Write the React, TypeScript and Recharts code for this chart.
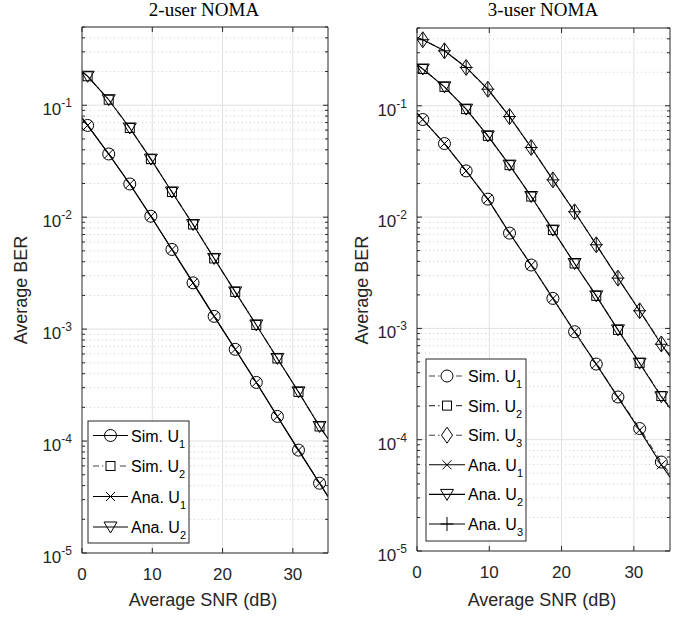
import React from 'react';
import { ComposedChart, Line, Scatter, XAxis, YAxis, ReferenceLine } from 'recharts';

// ---------- data ----------
const SNR_MARKS = [0.8, 3.8, 6.8, 9.8, 12.8, 15.8, 18.8, 21.8, 24.8, 27.8, 30.8, 33.8];
const SNR_RANGE = [0, 35];
const X_TICKS = [0, 10, 20, 30];
const Y_DECADES = [1e-5, 1e-4, 1e-3, 1e-2, 1e-1];
const Y_DECADE_EXP = ['-5', '-4', '-3', '-2', '-1'];
const Y_MINOR_MULT = [2, 3, 4, 5, 6, 7, 8, 9];
const Y_DOMAIN = [1e-5, 0.5];

// 2-user NOMA
const L_SIM_U1 = [0.066, 0.0367, 0.0198, 0.0102, 0.00515, 0.00259, 0.0013, 6.6e-4, 3.34e-4, 1.66e-4, 8.3e-5, 4.2e-5];
const L_SIM_U1_ENDS = [0.077, 3.2e-5];
const L_SIM_U2 = [0.1815, 0.112, 0.0626, 0.033, 0.0168, 0.0086, 0.00428, 0.00215, 0.00109, 5.47e-4, 2.75e-4, 1.35e-4];
const L_SIM_U2_ENDS = [0.2, 1.05e-4];
const L_ANA_U1 = [0.066, 0.0367, 0.0198, 0.0102, 0.00515, 0.00259, 0.0013, 6.6e-4, 3.34e-4, 1.66e-4, 8.3e-5, 4.2e-5];
const L_ANA_U1_ENDS = [0.077, 3.2e-5];
const L_ANA_U2 = [0.1815, 0.112, 0.0626, 0.033, 0.0168, 0.0086, 0.00428, 0.00215, 0.00109, 5.47e-4, 2.75e-4, 1.35e-4];
const L_ANA_U2_ENDS = [0.2, 1.05e-4];

// 3-user NOMA
const R_SIM_U1 = [0.0753, 0.0458, 0.026, 0.0145, 0.00718, 0.00371, 0.00186, 9.33e-4, 4.78e-4, 2.42e-4, 1.26e-4, 6.3e-5];
const R_SIM_U1_ENDS = [0.086, 4.9e-5];
const R_SIM_U2 = [0.214, 0.148, 0.0933, 0.0537, 0.0293, 0.0153, 0.00764, 0.00383, 0.00196, 9.7e-4, 4.9e-4, 2.47e-4];
const R_SIM_U2_ENDS = [0.235, 1.97e-4];
const R_SIM_U3 = [0.392, 0.312, 0.221, 0.141, 0.08, 0.0422, 0.0216, 0.01116, 0.00564, 0.00283, 0.00144, 7.25e-4];
const R_SIM_U3_ENDS = [0.41, 5.7e-4];
const R_ANA_U1 = [0.0753, 0.0458, 0.026, 0.0145, 0.00718, 0.00371, 0.00186, 9.33e-4, 4.78e-4, 2.4e-4, 1.22e-4, 5.95e-5];
const R_ANA_U1_ENDS = [0.086, 4.6e-5];
const R_ANA_U2 = [0.214, 0.148, 0.0933, 0.0537, 0.0293, 0.0153, 0.00764, 0.00383, 0.00196, 9.7e-4, 4.87e-4, 2.43e-4];
const R_ANA_U2_ENDS = [0.235, 1.92e-4];
const R_ANA_U3 = [0.392, 0.312, 0.221, 0.141, 0.08, 0.0422, 0.0216, 0.01116, 0.00564, 0.00283, 0.00144, 7.2e-4];
const R_ANA_U3_ENDS = [0.41, 5.6e-4];

const TITLES = ['2-user NOMA', '3-user NOMA'];
const X_LABEL = 'Average SNR (dB)';
const Y_LABEL = 'Average BER';

const LEFT_LEGEND = [
  { name: 'Sim. U', sub: '1', marker: 'circle', dash: false },
  { name: 'Sim. U', sub: '2', marker: 'square', dash: true },
  { name: 'Ana. U', sub: '1', marker: 'x', dash: false },
  { name: 'Ana. U', sub: '2', marker: 'tri', dash: false },
];
const RIGHT_LEGEND = [
  { name: 'Sim. U', sub: '1', marker: 'circle', dash: true },
  { name: 'Sim. U', sub: '2', marker: 'square', dash: true },
  { name: 'Sim. U', sub: '3', marker: 'diamond', dash: true },
  { name: 'Ana. U', sub: '1', marker: 'x', dash: false },
  { name: 'Ana. U', sub: '2', marker: 'tri', dash: false },
  { name: 'Ana. U', sub: '3', marker: 'plus', dash: false },
];

// ---------- styles ----------
const AX = '#262626';
const GRID_MAJOR = '#e0e0e0';
const GRID_MINOR = '#cfcfcf';
const SANS = '"Liberation Sans", Arial, Helvetica, sans-serif';
const SERIF = '"Liberation Serif", "Times New Roman", serif';
const DASHDOT = '6 3 1.5 3';
const SIM_DASH_COLOR = '#444444';

const Y_TICKS: number[] = [];
Y_DECADES.forEach((d) => {
  Y_TICKS.push(d);
  Y_MINOR_MULT.forEach((m) => {
    const v = d * m;
    if (v <= Y_DOMAIN[1] * 1.0000001) Y_TICKS.push(v);
  });
});
const Y_MINOR = Y_TICKS.filter((v) => !Y_DECADES.some((d) => Math.abs(d - v) / d < 1e-9));

const pts = (xs: number[], ys: number[]) => xs.map((x, i) => ({ x, y: ys[i] }));
const curve = (ys: number[], ends: number[]) => [
  { x: SNR_RANGE[0], y: ends[0] },
  ...pts(SNR_MARKS, ys),
  { x: SNR_RANGE[1], y: ends[1] },
];

function Marker({ kind, cx, cy }: { kind: string; cx: number; cy: number }) {
  const s = { fill: 'none', stroke: '#000', strokeWidth: 1 };
  if (cx == null || cy == null || isNaN(cx) || isNaN(cy)) return null;
  switch (kind) {
    case 'circle':
      return <circle cx={cx} cy={cy} r={6} {...s} />;
    case 'square':
      return <rect x={cx - 4.5} y={cy - 4.5} width={9} height={9} {...s} />;
    case 'diamond':
      return <polygon points={`${cx},${cy - 8} ${cx + 5.5},${cy} ${cx},${cy + 8} ${cx - 5.5},${cy}`} {...s} />;
    case 'tri':
      return <polygon points={`${cx - 6.5},${cy - 5} ${cx + 6.5},${cy - 5} ${cx},${cy + 6}`} {...s} />;
    case 'x':
      return (
        <g {...s}>
          <line x1={cx - 4.5} y1={cy - 4.5} x2={cx + 4.5} y2={cy + 4.5} />
          <line x1={cx - 4.5} y1={cy + 4.5} x2={cx + 4.5} y2={cy - 4.5} />
        </g>
      );
    case 'plus':
      return (
        <g {...s}>
          <line x1={cx - 6.5} y1={cy} x2={cx + 6.5} y2={cy} />
          <line x1={cx} y1={cy - 7} x2={cx} y2={cy + 7} />
        </g>
      );
    default:
      return null;
  }
}

function YTick(props: any) {
  const { x, y, payload, plotW } = props;
  const v = payload.value;
  const idx = Y_DECADES.findIndex((d) => Math.abs(d - v) / d < 1e-9);
  const len = idx >= 0 ? 5 : 3;
  return (
    <g>
      <line x1={x} x2={x + len} y1={y} y2={y} stroke={AX} strokeWidth={1} />
      <line x1={x + plotW} x2={x + plotW - len} y1={y} y2={y} stroke={AX} strokeWidth={1} />
      {idx >= 0 && (
        <text x={x - 10} y={y + 10} textAnchor="end" fontFamily={SANS} fontSize={17} fill={AX}>
          10
          <tspan dy={-8} fontSize={12}>
            {Y_DECADE_EXP[idx]}
          </tspan>
        </text>
      )}
    </g>
  );
}

function XTick(props: any) {
  const { x, y, payload, plotH } = props;
  return (
    <g>
      <line x1={x} x2={x} y1={y} y2={y - 5} stroke={AX} strokeWidth={1} />
      <line x1={x} x2={x} y1={y - plotH} y2={y - plotH + 5} stroke={AX} strokeWidth={1} />
      <text x={x} y={y + 27} textAnchor="middle" fontFamily={SANS} fontSize={17} fill={AX}>
        {payload.value}
      </text>
    </g>
  );
}

type Series = { ys: number[]; ends: number[]; marker: string; dash: boolean };

function Panel({ series, margin, plotW, plotH }: { series: Series[]; margin: any; plotW: number; plotH: number }) {
  return (
    <ComposedChart width={347} height={618} margin={margin}>
      {Y_MINOR.map((v) => (
        <ReferenceLine key={'ym' + v} y={v} stroke={GRID_MINOR} strokeDasharray="1 3" strokeWidth={1} />
      ))}
      {Y_DECADES.slice(1).map((v) => (
        <ReferenceLine key={'yM' + v} y={v} stroke={GRID_MAJOR} strokeWidth={1} />
      ))}
      {X_TICKS.slice(1).map((v) => (
        <ReferenceLine key={'xM' + v} x={v} stroke={GRID_MAJOR} strokeWidth={1} />
      ))}
      <XAxis
        type="number"
        dataKey="x"
        domain={SNR_RANGE}
        allowDataOverflow
        ticks={X_TICKS}
        interval={0}
        height={10}
        tickSize={0}
        tickMargin={0}
        tickLine={false}
        axisLine={{ stroke: AX, strokeWidth: 1 }}
        tick={(p: any) => <XTick {...p} plotH={plotH} />}
      />
      <YAxis
        type="number"
        dataKey="y"
        scale="log"
        domain={Y_DOMAIN}
        allowDataOverflow
        ticks={Y_TICKS}
        interval={0}
        width={10}
        tickSize={0}
        tickMargin={0}
        tickLine={false}
        axisLine={{ stroke: AX, strokeWidth: 1 }}
        tick={(p: any) => <YTick {...p} plotW={plotW} />}
      />
      {series.map((s, i) => (
        <Line
          key={'l' + i}
          data={curve(s.ys, s.ends)}
          dataKey="y"
          type="linear"
          stroke={s.dash ? SIM_DASH_COLOR : '#000'}
          strokeWidth={1.1}
          strokeDasharray={s.dash ? DASHDOT : undefined}
          dot={false}
          activeDot={false}
          isAnimationActive={false}
        />
      ))}
      {series.map((s, i) => (
        <Scatter
          key={'s' + i}
          data={pts(SNR_MARKS, s.ys)}
          dataKey="y"
          isAnimationActive={false}
          shape={(p: any) => <Marker kind={s.marker} cx={p.cx} cy={p.cy} />}
        />
      ))}
      <ReferenceLine y={Y_DOMAIN[1]} stroke={AX} strokeWidth={1} />
      <ReferenceLine x={SNR_RANGE[1]} stroke={AX} strokeWidth={1} />
    </ComposedChart>
  );
}

function LegendBox({ items, x, y, w, h, row0, rowStep, lx1, lx2, tx }: any) {
  return (
    <g>
      <rect x={x} y={y} width={w} height={h} fill="#fff" stroke={AX} strokeWidth={1} />
      {items.map((it: any, i: number) => {
        const ry = row0 + i * rowStep;
        const mx = (lx1 + lx2) / 2;
        return (
          <g key={i}>
            <line
              x1={lx1}
              x2={lx2}
              y1={ry}
              y2={ry}
              stroke={it.dash ? SIM_DASH_COLOR : '#000'}
              strokeWidth={1.1}
              strokeDasharray={it.dash ? DASHDOT : undefined}
            />
            {it.dash && <rect x={mx - 7} y={ry - 7} width={14} height={14} fill="#fff" />}
            <Marker kind={it.marker} cx={mx} cy={ry} />
            <text x={tx} y={ry + 6} fontFamily={SANS} fontSize={16} fill="#000">
              {it.name}
              <tspan dy={6} fontSize={11}>
                {it.sub}
              </tspan>
            </text>
          </g>
        );
      })}
    </g>
  );
}

export default function App() {
  const leftSeries: Series[] = [
    { ys: L_SIM_U1, ends: L_SIM_U1_ENDS, marker: 'circle', dash: false },
    { ys: L_SIM_U2, ends: L_SIM_U2_ENDS, marker: 'square', dash: true },
    { ys: L_ANA_U1, ends: L_ANA_U1_ENDS, marker: 'x', dash: false },
    { ys: L_ANA_U2, ends: L_ANA_U2_ENDS, marker: 'tri', dash: false },
  ];
  const rightSeries: Series[] = [
    { ys: R_SIM_U1, ends: R_SIM_U1_ENDS, marker: 'circle', dash: true },
    { ys: R_SIM_U2, ends: R_SIM_U2_ENDS, marker: 'square', dash: true },
    { ys: R_SIM_U3, ends: R_SIM_U3_ENDS, marker: 'diamond', dash: true },
    { ys: R_ANA_U1, ends: R_ANA_U1_ENDS, marker: 'x', dash: false },
    { ys: R_ANA_U2, ends: R_ANA_U2_ENDS, marker: 'tri', dash: false },
    { ys: R_ANA_U3, ends: R_ANA_U3_ENDS, marker: 'plus', dash: false },
  ];
  return (
    <div style={{ position: 'absolute', left: 0, top: 0, width: 694, height: 618, background: '#fff' }}>
      <div style={{ position: 'absolute', left: 0, top: 0 }}>
        <Panel series={leftSeries} margin={{ top: 27, right: 19, bottom: 55, left: 72 }} plotW={246} plotH={526} />
      </div>
      <div style={{ position: 'absolute', left: 347, top: 0 }}>
        <Panel series={rightSeries} margin={{ top: 28, right: 24, bottom: 57, left: 60 }} plotW={253} plotH={523} />
      </div>
      <svg
        width={694}
        height={618}
        style={{ position: 'absolute', left: 0, top: 0, pointerEvents: 'none' }}
      >
        <text x={204} y={16} textAnchor="middle" fontFamily={SERIF} fontSize={19} fill="#000">
          {TITLES[0]}
        </text>
        <text x={543} y={16} textAnchor="middle" fontFamily={SERIF} fontSize={19} fill="#000">
          {TITLES[1]}
        </text>
        <text x={203} y={606} textAnchor="middle" fontFamily={SANS} fontSize={18} fill={AX}>
          {X_LABEL}
        </text>
        <text x={542} y={606} textAnchor="middle" fontFamily={SANS} fontSize={18} fill={AX}>
          {X_LABEL}
        </text>
        <text x={27} y={290} transform="rotate(-90 27 290)" textAnchor="middle" fontFamily={SANS} fontSize={18} fill={AX}>
          {Y_LABEL}
        </text>
        <text x={368} y={290} transform="rotate(-90 368 290)" textAnchor="middle" fontFamily={SANS} fontSize={18} fill={AX}>
          {Y_LABEL}
        </text>
        <LegendBox items={LEFT_LEGEND} x={88} y={421} w={101} h={122} row0={435.5} rowStep={30.5} lx1={93} lx2={128} tx={131} />
        <LegendBox items={RIGHT_LEGEND} x={426} y={359} w={100} h={182} row0={376} rowStep={29.6} lx1={429} lx2={465} tx={468} />
      </svg>
    </div>
  );
}
